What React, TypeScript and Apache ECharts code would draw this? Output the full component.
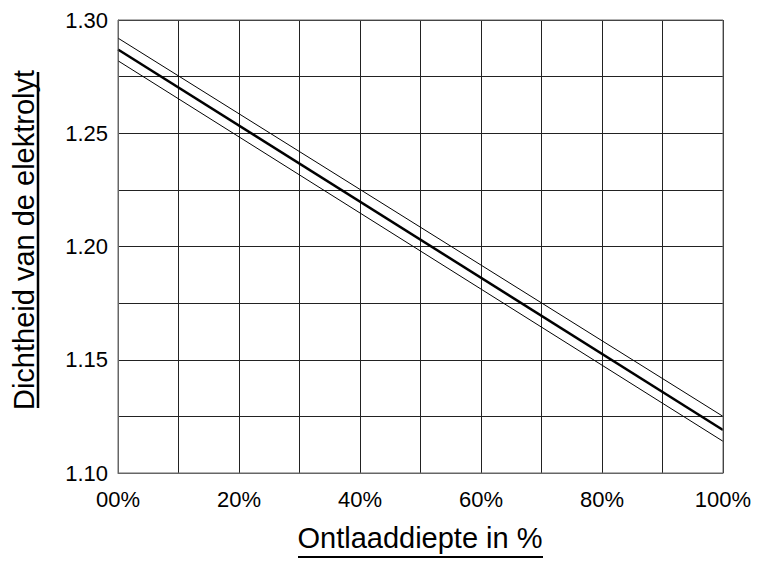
import React, { useEffect, useRef } from "react";
import * as echarts from "echarts";

const xEnds = [0, 100];
const centerLine = [1.287, 1.119];
const upperLine = [1.292, 1.125];
const lowerLine = [1.282, 1.114];
const yTitle = "Dichtheid van de elektrolyt";
const xTitle = "Ontlaaddiepte in %";

export default function App() {
  const ref = useRef<HTMLDivElement>(null);
  useEffect(() => {
    document.body.style.margin = "0";
    const chart = echarts.init(ref.current!, null, { renderer: "svg" });
    const font = "'Liberation Sans', Arial, sans-serif";
    const mk = (vals: number[], w: number) => ({
      type: "line",
      data: xEnds.map((x, i) => [x, vals[i]]),
      symbol: "none",
      lineStyle: { color: "#000", width: w },
      z: 5,
    });
    chart.setOption({
      animation: false,
      backgroundColor: "#fff",
      grid: { left: 118, right: 46, top: 20, bottom: 88 },
      xAxis: {
        type: "value",
        min: 0,
        max: 100,
        interval: 10,
        axisLine: { show: true, lineStyle: { color: "#666", width: 1 } },
        axisTick: { show: false },
        splitLine: { show: true, lineStyle: { color: "#222", width: 1 } },
        axisLabel: {
          color: "#000",
          fontSize: 22,
          fontFamily: font,
          margin: 15,
          formatter: (v: number) => (v % 20 === 0 ? (v === 0 ? "00%" : v + "%") : ""),
        },
      },
      yAxis: {
        type: "value",
        min: 1.1,
        max: 1.3,
        interval: 0.025,
        axisLine: { show: true, lineStyle: { color: "#666", width: 1 } },
        axisTick: { show: false },
        splitLine: { show: true, lineStyle: { color: "#222", width: 1 } },
        axisLabel: {
          color: "#000",
          fontSize: 22,
          fontFamily: font,
          margin: 10,
          formatter: (v: number) => {
            const r = Math.round(v * 1000);
            return r % 50 === 0 ? v.toFixed(2) : "";
          },
        },
      },
      graphic: [
        {
          type: "rect",
          shape: { x: 118, y: 20, width: 605, height: 453 },
          style: { fill: "none", stroke: "#666", lineWidth: 1 },
          z: 10,
        },
        {
          type: "text",
          x: 24,
          y: 240,
          rotation: Math.PI / 2,
          style: {
            text: yTitle,
            fontSize: 29,
            fontFamily: font,
            fill: "#000",
            align: "center",
            verticalAlign: "middle",
          },
        },
        {
          type: "line",
          shape: { x1: 38, y1: 72, x2: 38, y2: 408 },
          style: { stroke: "#000", lineWidth: 2.5 },
        },
        {
          type: "text",
          x: 420,
          y: 538,
          style: {
            text: xTitle,
            fontSize: 29,
            fontFamily: font,
            fill: "#000",
            align: "center",
            verticalAlign: "middle",
          },
        },
        {
          type: "line",
          shape: { x1: 298, y1: 557, x2: 543, y2: 557 },
          style: { stroke: "#000", lineWidth: 2 },
        },
      ],
      series: [mk(upperLine, 1), mk(centerLine, 2.5), mk(lowerLine, 1)],
    });
    return () => chart.dispose();
  }, []);
  return <div ref={ref} style={{ width: 769, height: 561 }} />;
}
